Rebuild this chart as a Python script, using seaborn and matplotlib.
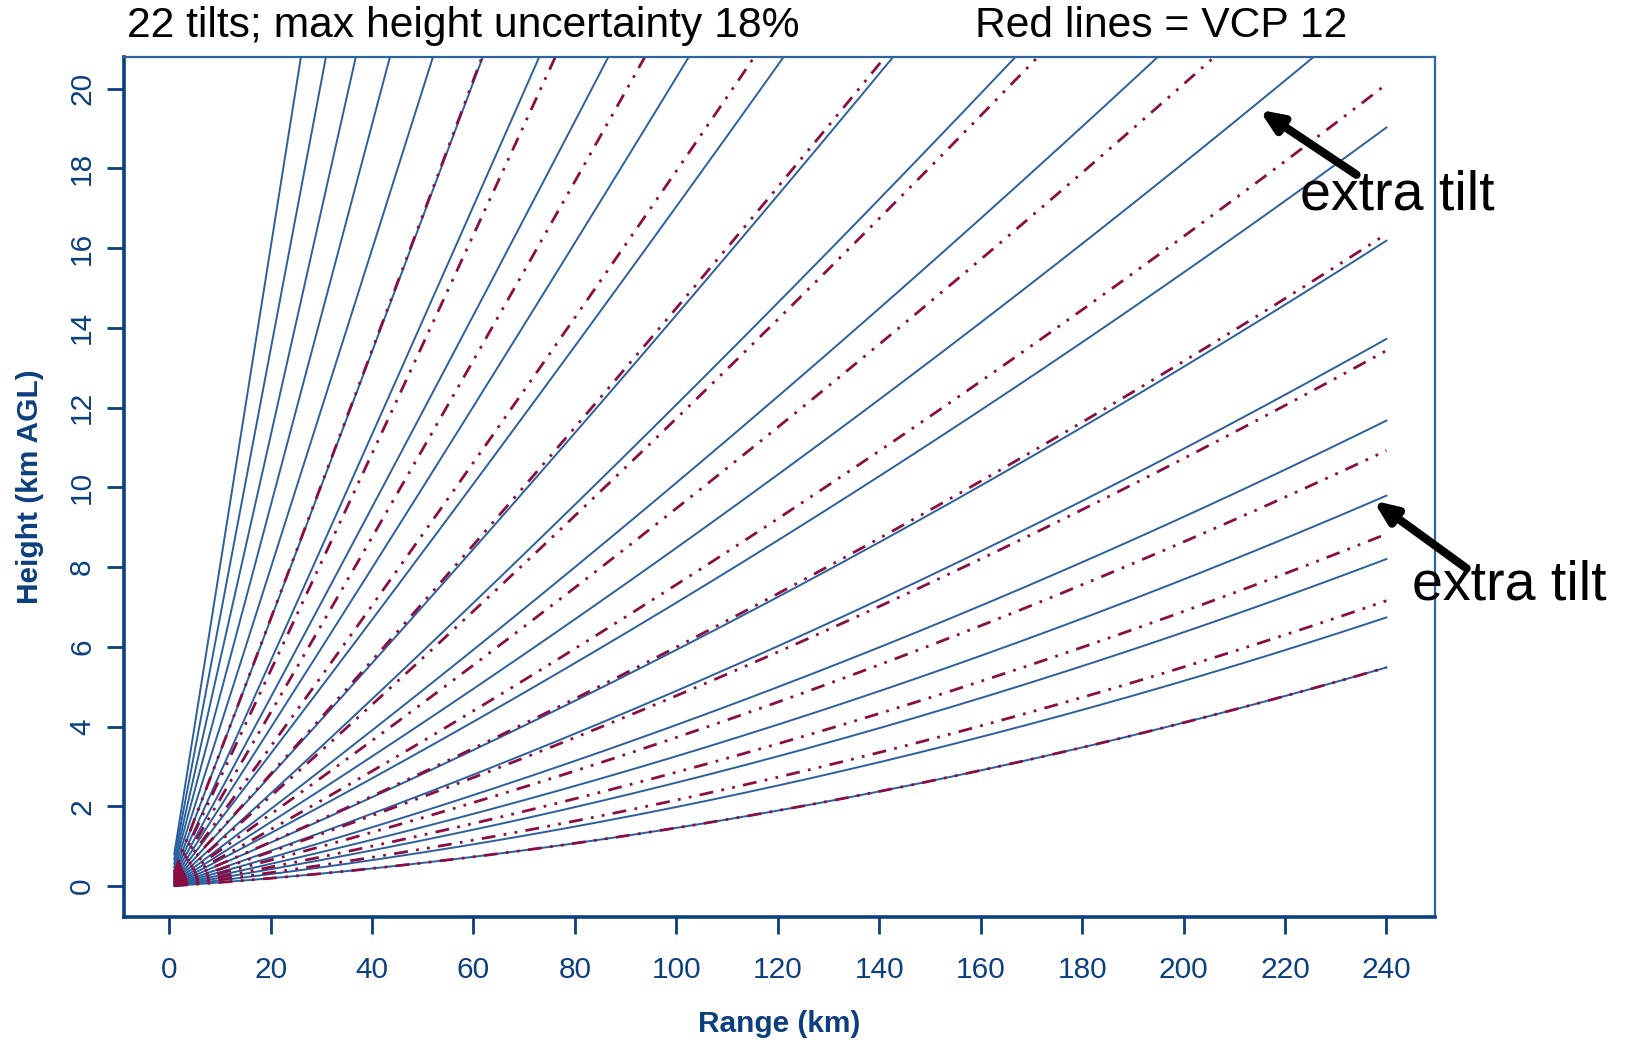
import numpy as np
import pandas as pd
import matplotlib
matplotlib.use("Agg")
import matplotlib.pyplot as plt
import seaborn as sns

# =========================
# DATA
# =========================

# elevation angles (deg) of the 22-tilt scan (blue) and VCP 12 (red)
blue_tilts = [0.5, 0.8, 1.15, 1.53, 1.98, 2.47, 3.06, 3.74, 4.53, 5.47, 6.6,
              7.9, 9.48, 11.37, 13.61, 16.32, 19.45, 23.4, 28.4, 34.3, 42.2, 53.1]
vcp12_tilts = [0.5, 0.9, 1.3, 1.8, 2.4, 3.1, 4.0, 5.1, 6.4, 8.0, 10.0, 12.5, 15.6, 19.5]

range_km = np.linspace(1, 240, 480)
x_ticks = list(range(0, 241, 20))
y_ticks = list(range(0, 21, 2))

title_left = "22 tilts; max height uncertainty 18%"
title_right = "Red lines = VCP 12"

# effective earth radius (4/3 model), km
KE = 4.0 / 3.0 * 6371.0


def beam_height(r, elev):
    th = np.deg2rad(elev)
    return np.sqrt(r**2 + KE**2 + 2 * r * KE * np.sin(th)) - KE


def beam_frame(tilts):
    rows = []
    for t in tilts:
        rows.append(pd.DataFrame({
            "tilt": t,
            "range": range_km,
            "height": beam_height(range_km, t)
        }))
    return pd.concat(rows, ignore_index=True)


blue_df = beam_frame(blue_tilts)
red_df = beam_frame(vcp12_tilts)

# =========================
# PLOT
# =========================

axis_col = "#0C3F7E"
blue_col = "#2C5F9E"
red_col = "#8A0E42"

plt.rcParams["font.family"] = ["Liberation Sans", "DejaVu Sans"]

fig = plt.figure(figsize=(16.36, 10.44), dpi=100)
ax = fig.add_axes([0.0758, 0.1214, 0.8014, 0.8243])

sns.lineplot(
    data=blue_df, x="range", y="height",
    units="tilt", estimator=None, sort=False,
    color=blue_col, linewidth=1.4, ax=ax
)
n_blue = len(ax.lines)

sns.lineplot(
    data=red_df, x="range", y="height",
    units="tilt", estimator=None, sort=False,
    color=red_col, linewidth=2.0, ax=ax
)
for line in ax.lines[n_blue:]:
    line.set_dashes((5, 3, 1, 3, 1, 3))

ax.set_xlim(-8.9, 249.6)
ax.set_ylim(-0.78, 20.8)
ax.set_xticks(x_ticks)
ax.set_yticks(y_ticks)
ax.set_yticklabels([str(v) for v in y_ticks], rotation=90, va="center")

ax.tick_params(axis="both", colors=axis_col, labelsize=21.5,
               length=12, width=2)
ax.tick_params(axis="x", pad=16)
ax.tick_params(axis="y", pad=8)

for side in ["left", "bottom"]:
    ax.spines[side].set_color(axis_col)
    ax.spines[side].set_linewidth(2.6)
for side in ["top", "right"]:
    ax.spines[side].set_color("#2E62A0")
    ax.spines[side].set_linewidth(1.6)

ax.set_xlabel("Range (km)", fontsize=21.5, fontweight="bold", color=axis_col)
ax.set_ylabel("Height (km AGL)", fontsize=21.5, fontweight="bold", color=axis_col)
ax.xaxis.set_label_coords(0.5, -0.108)
ax.yaxis.set_label_coords(-0.061, 0.5)

fig.text(127 / 1636, 1 - 26 / 1044, title_left, fontsize=30.7,
         ha="left", va="center", color="black")
fig.text(975 / 1636, 1 - 26 / 1044, title_right, fontsize=30.7,
         ha="left", va="center", color="black")

# "extra tilt" callouts
arrow_kw = dict(arrowstyle="-|>,head_length=1.3,head_width=0.55",
                color="black", lw=6, shrinkA=0, shrinkB=0)
ax.annotate("", xy=(214.9, 19.47), xytext=(234.1, 17.84),
            arrowprops=arrow_kw, annotation_clip=False)
ax.annotate("", xy=(237.4, 9.67), xytext=(255.8, 7.97),
            arrowprops=arrow_kw, annotation_clip=False)
ax.text(242.2, 17.32, "extra tilt", fontsize=40, ha="center", va="center",
        color="black", clip_on=False, zorder=5)
ax.text(264.2, 7.54, "extra tilt", fontsize=40, ha="center", va="center",
        color="black", clip_on=False, zorder=5)

fig.savefig("out.png", dpi=100)
